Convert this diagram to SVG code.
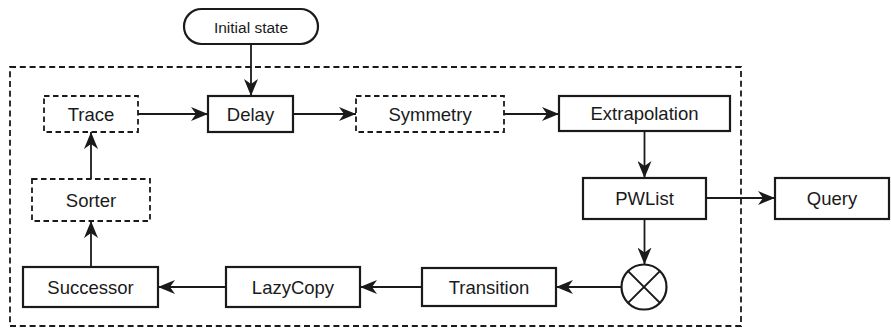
<svg xmlns="http://www.w3.org/2000/svg" width="891" height="329" viewBox="0 0 891 329">
<style>
.box{fill:#fff;stroke:#1a1a1a;stroke-width:2.2}
.dbox{fill:#fff;stroke:#1a1a1a;stroke-width:1.8;stroke-dasharray:5.5 3.5}
.frame{fill:none;stroke:#1a1a1a;stroke-width:1.8;stroke-dasharray:6 3.8}
.lbl{font-family:"Liberation Sans",Arial,Helvetica,sans-serif;font-size:18.5px;fill:#1a1a1a;text-anchor:middle}
.small{font-size:15.5px}
.conn line{stroke:#1a1a1a;stroke-width:1.8;marker-end:url(#ah)}
</style>
<defs>
<marker id="ah" markerUnits="userSpaceOnUse" markerWidth="17" markerHeight="14" refX="17" refY="7" orient="auto">
<path d="M0,0 L17,7 L0,14 L5,7 Z" fill="#1a1a1a"/>
</marker>
</defs>
<rect id="frame" class="frame" x="10" y="67" width="731" height="259"/>
<g id="initial"><rect class="box" x="184" y="9" width="134" height="35" rx="17.5"/><text class="lbl small" x="251" y="32.5">Initial state</text></g>
<g id="trace"><rect class="dbox" x="44" y="96" width="94" height="36"/><text class="lbl" x="91" y="120.5">Trace</text></g>
<g id="delay"><rect class="box" x="208" y="96" width="85" height="36"/><text class="lbl" x="250.5" y="120.5">Delay</text></g>
<g id="symmetry"><rect class="dbox" x="356" y="96" width="148" height="36"/><text class="lbl" x="430" y="120.5">Symmetry</text></g>
<g id="extrapolation"><rect class="box" x="559" y="96" width="171" height="35"/><text class="lbl" x="644.5" y="120">Extrapolation</text></g>
<g id="pwlist"><rect class="box" x="583" y="178" width="123" height="41"/><text class="lbl" x="644.5" y="205">PWList</text></g>
<g id="query"><rect class="box" x="775" y="178" width="114" height="41"/><text class="lbl" x="832" y="205">Query</text></g>
<g id="merge"><circle cx="644" cy="287" r="22.5" fill="#fff" stroke="#1a1a1a" stroke-width="2.2"/><path d="M628.1,271.1 L659.9,302.9 M659.9,271.1 L628.1,302.9" stroke="#1a1a1a" stroke-width="2"/></g>
<g id="transition"><rect class="box" x="422" y="268" width="134" height="38"/><text class="lbl" x="489" y="293.5">Transition</text></g>
<g id="lazycopy"><rect class="box" x="226" y="267" width="134" height="40"/><text class="lbl" x="293" y="293.5">LazyCopy</text></g>
<g id="successor"><rect class="box" x="23" y="267" width="135" height="40"/><text class="lbl" x="90.5" y="293.5">Successor</text></g>
<g id="sorter"><rect class="dbox" x="32" y="179" width="118" height="42"/><text class="lbl" x="91" y="206.5">Sorter</text></g>
<g id="connectors" class="conn">
<line x1="251" y1="44" x2="251" y2="96"/>
<line x1="138" y1="114" x2="208" y2="114"/>
<line x1="293" y1="114" x2="356" y2="114"/>
<line x1="504" y1="114" x2="559" y2="114"/>
<line x1="644.5" y1="131" x2="644.5" y2="178"/>
<line x1="706" y1="198" x2="775" y2="198"/>
<line x1="644.5" y1="219" x2="644.5" y2="264.5"/>
<line x1="621.5" y1="287" x2="556" y2="287"/>
<line x1="422" y1="287" x2="360" y2="287"/>
<line x1="226" y1="287" x2="158" y2="287"/>
<line x1="91" y1="267" x2="91" y2="221"/>
<line x1="91" y1="179" x2="91" y2="132"/>
</g>
</svg>
